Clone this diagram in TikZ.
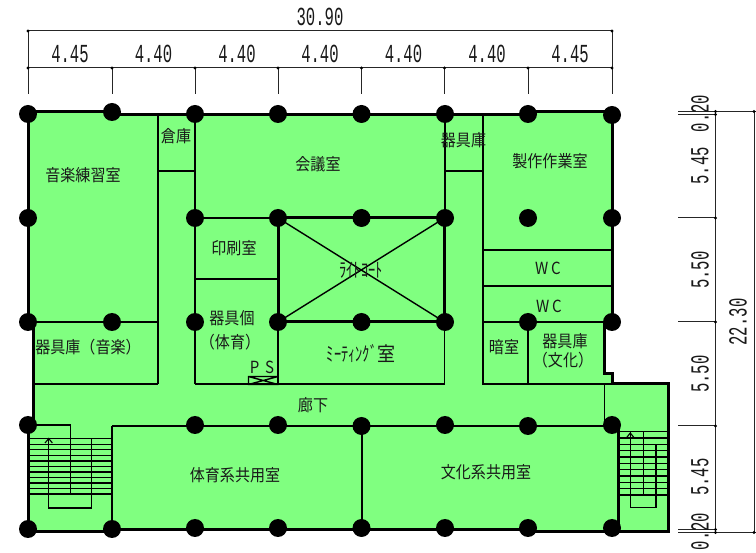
\documentclass[tikz,border=0pt]{standalone}
\usepackage{fontspec}
\newfontfamily\jpf[FakeStretch=0.9]{Noto Sans CJK JP}
\newfontfamily\kanaf[FakeStretch=0.72]{Noto Sans CJK JP}
\newfontfamily\dimf[FakeStretch=0.6]{Liberation Mono}
\definecolor{roomgreen}{HTML}{80FF80}
\tikzset{
  thinwall/.style={draw=black,line width=1.4pt},
  thickwall/.style={draw=black,line width=3pt,line join=miter},
  dimline/.style={draw=black!85,line width=1pt},
  roomlabel/.style={font=\jpf\fontsize{16.7}{17}\selectfont,inner sep=0pt,text=black!90},
  kanalabel/.style={font=\kanaf\fontsize{20}{20}\selectfont,inner sep=0pt,text=black!90},
  dimlabel/.style={font=\dimf\fontsize{26}{26}\selectfont,inner sep=0pt,text=black!90},
  col/.style={circle,fill=black,inner sep=0pt,minimum size=18pt},
  dimdot/.style={circle,fill=black,inner sep=0pt,minimum size=3.4pt}
}
\begin{document}
\begin{tikzpicture}[x=1pt,y=-1pt]
\useasboundingbox (0,0) rectangle (756,553);
\fill[white] (0,0) rectangle (756,553);
% floor fill
\fill[roomgreen] (28,112) -- (112,112) -- (112,114.5) -- (528,114.5) -- (528,112) -- (612,112)
  -- (612,322) -- (604.5,322) -- (604.5,373.5) -- (612,373.5) -- (612,384) -- (668.7,384) -- (668.7,532)
  -- (528,532) -- (528,529) -- (112,529) -- (112,532) -- (28,532) -- (28,425) -- (33.5,425) -- (33.5,322) -- (28,322) -- cycle;
% thin partitions
\draw[thinwall] (158,114.5) -- (158,384) (158,171) -- (195,171) (195,114.5) -- (195,218)
  (195,218) -- (195,384) (195,218) -- (278,218) (195,279) -- (278,279) (278,322) -- (278,384)
  (444.5,322) -- (444.5,384) (195,384) -- (444.5,384) (33.5,322) -- (158,322) (33.5,384) -- (158,384)
  (445,114.5) -- (445,218) (445,171) -- (483,171) (483,114.5) -- (483,384)
  (483,250) -- (612,250) (483,286) -- (612,286) (483,322) -- (604.5,322) (528,322) -- (528,384)
  (482,384) -- (612,384) (604.5,384) -- (604.5,425) (112,426) -- (612,426) (362,426) -- (362,529);
% PS
\draw[thinwall] (248.5,376.5) rectangle (278,384.5) (248.5,376.5) -- (278,384.5) (248.5,384.5) -- (278,376.5);
% light court diagonals
\draw[thinwall] (278,218) -- (444.5,322) (278,322) -- (444.5,218);
% left stair
\draw[thinwall] (28,425) -- (70.5,425) -- (70.5,494) (112,426) -- (112,530);
\foreach \i in {0,...,10} \draw[thinwall] (28,{438.7+\i*5.53}) -- (112,{438.7+\i*5.53});
\draw[thinwall] (48.7,438) -- (48.7,508) -- (91.5,508) -- (91.5,438.7);
\draw[thinwall,line width=1.1pt] (45,443) -- (48.7,438.5) -- (52.4,443);
% right stair
\foreach \i in {0,...,10} \draw[thinwall] (618,{431.7+\i*6.33}) -- (668.7,{431.7+\i*6.33});
\draw[thinwall] (630.3,432) -- (630.3,507.7) -- (656,507.7) -- (656,444.3) (643.5,431.7) -- (643.5,495);
\draw[thinwall,line width=1.1pt] (626.3,438) -- (630.3,433) -- (634.3,438);
% thick walls
\draw[thickwall] (28,425) -- (28,532) -- (112,532);
\draw[thickwall,line width=2.2pt] (112,529.5) -- (528,529.5);
\draw[thickwall] (528,532) -- (668.7,532) -- (668.7,384) -- (612,384) -- (612,373.5) -- (604.5,373.5) -- (604.5,322);
\draw[thickwall] (612,322) -- (612,112) -- (528,112);
\draw[thickwall,line width=2.4pt] (528,114.5) -- (112,114.5);
\draw[thickwall] (112,112) -- (28,112) -- (28,322);
\draw[thickwall] (33.5,322) -- (33.5,425);
\draw[thickwall] (618,425) -- (618,532);
\draw[thickwall] (278,218) rectangle (444.5,322);
% columns
\foreach \x/\y in {28/114,112/112,195/114,278/114,361.5/114,445/114,528/114,612/115,
  28/218,195/218,278/218,361.5/218,445/218,528/218,612/218,
  28/322,112/322,195/322,278/322,361.5/322,445/322,528/322,612/322,
  28/425,195/425,278/425,361.5/426,445/425,528/426,612/425,
  28/529,112/529,195/528,278/528,361.5/528,445/528,528/528,612/528}
  \node[col] at (\x,\y) {};
% top dimensions
\draw[dimline] (28,31) -- (612,31) (28,68) -- (612,68) (28,31) -- (28,94) (612,31) -- (612,94);
\foreach \x in {112,195,278,361.5,444.5,528} \draw[dimline] (\x,68) -- (\x,94);
\foreach \x/\y in {28/31,612/31,28/68,112/68,195/68,278/68,361.5/68,444.5/68,528/68,612/68}
  \node[dimdot] at (\x,\y) {};
\node[dimlabel] at (320,17) {30.90};
\foreach \x/\t in {70/4.45,153.5/4.40,237/4.40,320/4.40,403.5/4.40,487/4.40,570/4.45}
  \node[dimlabel] at (\x,54) {\t};
% right dimensions
\draw[dimline] (715.5,111.5) -- (715.5,532.5) (754,111.5) -- (754,532.5)
  (678,111.5) -- (756,111.5) (678,114.5) -- (715.5,114.5) (678,218) -- (715.5,218) (678,322) -- (715.5,322)
  (678,426) -- (715.5,426) (678,529.5) -- (715.5,529.5) (678,532.5) -- (756,532.5);
\foreach \y in {111.5,114.5,218,322,426,529.5,532.5} \node[dimdot] at (715.5,\y) {};
\foreach \y in {111.5,532.5} \node[dimdot] at (754,\y) {};
\foreach \y/\t in {113.5/0.20,166/5.45,270/5.50,374/5.50,477/5.45,531.5/0.20}
  \node[dimlabel,rotate=90] at (700,\y) {\t};
\node[dimlabel,rotate=90] at (738,322) {22.30};
% room labels
\node[roomlabel] at (83,175) {音楽練習室};
\node[roomlabel] at (176,136) {倉庫};
\node[roomlabel] at (318,164.5) {会議室};
\node[roomlabel] at (463.5,140) {器具庫};
\node[roomlabel] at (550,161) {製作作業室};
\node[roomlabel] at (234,248) {印刷室};
\node[kanalabel] at (361,270) {ﾗｲﾄｺｰﾄ};
\node[kanalabel] at (361,353) {ﾐｰﾃｨﾝｸﾞ{\jpf 室}};
\node[roomlabel] at (232,318) {器具個};
\node[roomlabel] at (230,342) {（体育）};
\node[roomlabel] at (262,367) {P\,\,S};
\node[roomlabel] at (313,405) {廊下};
\node[roomlabel] at (88,347) {器具庫（音楽）};
\node[roomlabel] at (235,475) {体育系共用室};
\node[roomlabel] at (486,472) {文化系共用室};
\node[roomlabel] at (548,268) {W\,C};
\node[roomlabel] at (549,306) {W\,C};
\node[roomlabel] at (504,347) {暗室};
\node[roomlabel] at (565,341) {器具庫};
\node[roomlabel] at (563,360) {（文化）};
\end{tikzpicture}
\end{document}
